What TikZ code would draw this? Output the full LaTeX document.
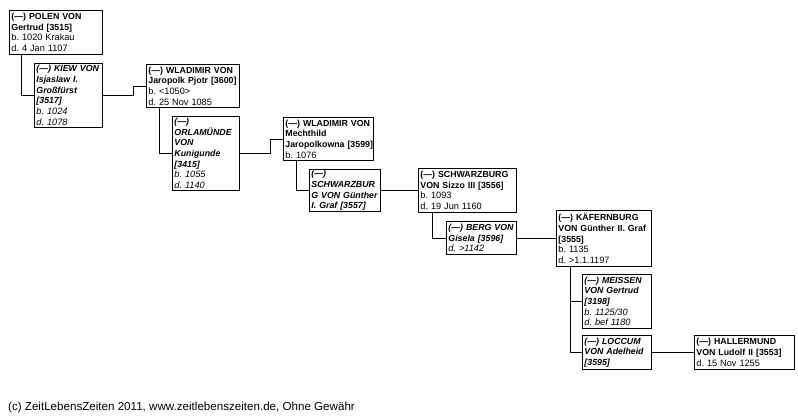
\documentclass[tikz,border=0pt]{standalone}
\usepackage{fontspec}
\setmainfont{Liberation Sans}
\newcommand\regtxt{\fontsize{9.2}{10.7}\selectfont}
\begin{document}
\begin{tikzpicture}[x=1pt,y=-1pt,
  box/.style={draw=black, line width=0.9pt, anchor=north west, align=left,
    inner xsep=2pt, inner ysep=1pt, font=\fontsize{8.8}{10.7}\selectfont,
    execute at begin node={\hyphenpenalty=10000\exhyphenpenalty=10000\hbadness=10000\hfuzz=20pt}},
  conn/.style={draw=black, line width=0.9pt}]
\useasboundingbox (0,0) rectangle (798,416);
\node[box, text width=89pt, minimum height=44pt] (b1) at (9,10)
  {\textbf{(—)~POLEN~VON}\\\textbf{Gertrud~[3515]}\\{\regtxt b.~1020~Krakau}\\{\regtxt d.~4~Jan~1107}};
\node[box, text width=64pt, minimum height=64pt] (b2) at (34,63)
  {\textbf{\textit{(—)~KIEW~VON}}\\\textbf{\textit{Isjaslaw~I.}}\\\textbf{\textit{Großfürst}}\\\textbf{\textit{[3517]}}\\{\regtxt\textit{b.~1024}}\\{\regtxt\textit{d.~1078}}};
\node[box, text width=89pt, minimum height=43pt] (b3) at (146,64)
  {\textbf{(—)~WLADIMIR~VON}\\\textbf{Jaropolk~Pjotr~[3600]}\\{\regtxt b.~<1050>}\\{\regtxt d.~25~Nov~1085}};
\node[box, text width=63pt, minimum height=74pt] (b4) at (172,116)
  {\textbf{\textit{(—)}}\\\textbf{\textit{ORLAMÜNDE}}\\\textbf{\textit{VON}}\\\textbf{\textit{Kunigunde}}\\\textbf{\textit{[3415]}}\\{\regtxt\textit{b.~1055}}\\{\regtxt\textit{d.~1140}}};
\node[box, text width=86pt, minimum height=43pt] (b5) at (283,117)
  {\textbf{(—)~WLADIMIR~VON}\\\textbf{Mechthild}\\\textbf{Jaropolkowna~[3599]}\\{\regtxt b.~1076}};
\node[box, text width=67pt, minimum height=41pt] (b6) at (309,169)
  {\textbf{\textit{(—)}}\\\textbf{\textit{SCHWARZBUR}}\\\textbf{\textit{G~VON~Günther}}\\\textbf{\textit{I.~Graf~[3557]}}};
\node[box, text width=94pt, minimum height=44pt] (b7) at (418,168)
  {\textbf{(—)~SCHWARZBURG}\\\textbf{VON~Sizzo~III~[3556]}\\{\regtxt b.~1093}\\{\regtxt d.~19~Jun~1160}};
\node[box, text width=66pt, minimum height=33pt] (b8) at (446,221)
  {\textbf{\textit{(—)~BERG~VON}}\\\textbf{\textit{Gisela~[3596]}}\\{\regtxt\textit{d.~>1142}}};
\node[box, text width=91pt, minimum height=56pt] (b9) at (556,210)
  {\textbf{(—)~KÄFERNBURG}\\\textbf{VON~Günther~II.~Graf}\\\textbf{[3555]}\\{\regtxt b.~1135}\\{\regtxt d.~>1.1.1197}};
\node[box, text width=65pt, minimum height=54pt] (b10) at (582,274)
  {\textbf{\textit{(—)~MEISSEN}}\\\textbf{\textit{VON~Gertrud}}\\\textbf{\textit{[3198]}}\\{\regtxt\textit{b.~1125/30}}\\{\regtxt\textit{d.~bef~1180}}};
\node[box, text width=65pt, minimum height=34pt] (b11) at (582,335)
  {\textbf{\textit{(—)~LOCCUM}}\\\textbf{\textit{VON~Adelheid}}\\\textbf{\textit{[3595]}}};
\node[box, text width=96pt, minimum height=34pt] (b12) at (694,335)
  {\textbf{(—)~HALLERMUND}\\\textbf{VON~Ludolf~II~[3553]}\\{\regtxt d.~15~Nov~1255}};
\node[anchor=west, inner sep=0pt, font=\fontsize{11.6}{13}\selectfont] (foot) at (8,407)
  {(c) ZeitLebensZeiten 2011, www.zeitlebenszeiten.de, Ohne Gewähr};
% connectors
\coordinate (e1) at ([xshift=-13pt]b3.west);
\coordinate (e2) at ([xshift=-13pt]b5.west);
\coordinate (v9) at ([xshift=14pt]b9.south west);
\draw[conn] ([xshift=12pt]b1.south west) |- (b2.west);
\draw[conn] (b2.east) -| (e1) -- (b3.west);
\draw[conn] ([xshift=13pt]b3.south west) |- (b4.west);
\draw[conn] (b4.east) -| (e2) -- (b5.west);
\draw[conn] ([xshift=13pt]b5.south west) |- (b6.west);
\draw[conn] (b6.east) -- (b6.east -| b7.west);
\draw[conn] ([xshift=14pt]b7.south west) |- (b8.west);
\draw[conn] (b8.east) -- (b8.east -| b9.west);
\draw[conn] (v9) |- (b11.west);
\draw[conn] (v9 |- b10.west) -- (b10.west);
\draw[conn] (b11.east) -- (b11.east -| b12.west);
\end{tikzpicture}
\end{document}
